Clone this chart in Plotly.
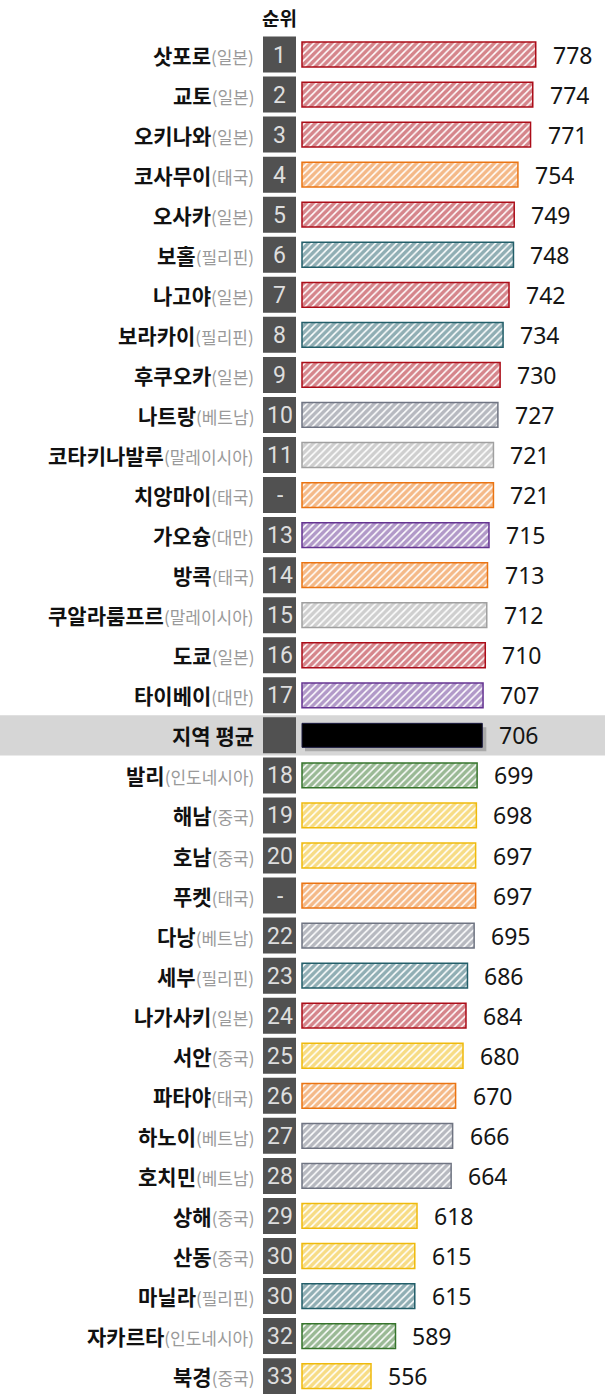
import plotly.graph_objects as go

cities = ["삿포로", "교토", "오키나와", "코사무이", "오사카", "보홀", "나고야", "보라카이", "후쿠오카", "나트랑",
          "코타키나발루", "치앙마이", "가오슝", "방콕", "쿠알라룸프르", "도쿄", "타이베이", "지역 평균",
          "발리", "해남", "호남", "푸켓", "다낭", "세부", "나가사키", "서안", "파타야", "하노이", "호치민",
          "상해", "산동", "마닐라", "자카르타", "북경"]
countries = ["일본", "일본", "일본", "태국", "일본", "필리핀", "일본", "필리핀", "일본", "베트남",
             "말레이시아", "태국", "대만", "태국", "말레이시아", "일본", "대만", "",
             "인도네시아", "중국", "중국", "태국", "베트남", "필리핀", "일본", "중국", "태국", "베트남", "베트남",
             "중국", "중국", "필리핀", "인도네시아", "중국"]
ranks = ["1", "2", "3", "4", "5", "6", "7", "8", "9", "10", "11", "-", "13", "14", "15", "16", "17", "",
         "18", "19", "20", "-", "22", "23", "24", "25", "26", "27", "28", "29", "30", "30", "32", "33"]
scores = [778, 774, 771, 754, 749, 748, 742, 734, 730, 727, 721, 721, 715, 713, 712, 710, 707, 706,
          699, 698, 697, 697, 695, 686, 684, 680, 670, 666, 664, 618, 615, 615, 589, 556]

country_colors = {
    "일본": "#ab0c18",
    "태국": "#ea7412",
    "필리핀": "#225e69",
    "베트남": "#6f7482",
    "말레이시아": "#a0a0a0",
    "대만": "#643391",
    "인도네시아": "#35742b",
    "중국": "#efba0c",
    "": "#000000",
}

BASE = 463
PX = 0.742           # pixels per unit
X0 = BASE - 302 / PX
X1 = X0 + 605 / PX
PITCH = 40.05
Y_TOP = -54.5 / PITCH
Y_BOT = Y_TOP + 1394 / PITCH

avg_idx = cities.index("지역 평균")
n = len(cities)
idx = list(range(n))

fig = go.Figure()

hatch_idx = [i for i in idx if i != avg_idx]
cols = [country_colors[countries[i]] for i in hatch_idx]
fig.add_trace(go.Bar(
    y=hatch_idx,
    x=[scores[i] - BASE for i in hatch_idx],
    base=BASE,
    orientation="h",
    width=0.62,
    marker=dict(
        color="white",
        line=dict(color=cols, width=1.5),
        pattern=dict(shape="/", fgcolor=cols, bgcolor="white", size=5, solidity=0.7, fillmode="overlay"),
    ),
    hoverinfo="skip",
))
fig.add_trace(go.Bar(
    y=[avg_idx],
    x=[scores[avg_idx] - BASE],
    base=BASE,
    orientation="h",
    width=0.6,
    marker=dict(color="#000000", line=dict(color="#1a1a40", width=1)),
    hoverinfo="skip",
))

shapes = []
shapes.append(dict(type="rect", xref="paper", yref="y", x0=0, x1=1,
                   y0=avg_idx - 0.5, y1=avg_idx + 0.5, fillcolor="#d6d6d6", line_width=0, layer="below"))
shapes.append(dict(type="rect", xref="x", yref="y", x0=BASE + 3 / PX, x1=scores[avg_idx] + 4 / PX,
                   y0=avg_idx - 0.3 + 4 / PITCH, y1=avg_idx + 0.3 + 4 / PITCH,
                   fillcolor="#8a8a8a", opacity=0.6, line_width=0, layer="below"))
annotations = []
for i in idx:
    shapes.append(dict(type="rect", xref="paper", yref="y", x0=263 / 605, x1=296 / 605,
                       y0=i - 0.45, y1=i + 0.45, fillcolor="#515151", line_width=0, layer="above"))
    if ranks[i]:
        annotations.append(dict(x=279.5 / 605, xref="paper", y=i, yref="y", text=ranks[i],
                                showarrow=False, xanchor="center", yanchor="middle", height=26,
                                font=dict(family="Liberation Sans Narrow, Roboto, sans-serif", size=23, color="#dedede")))
    if countries[i]:
        label = (f"<b>{cities[i]}</b><span style='font-size:17px;color:#9a9a9a'>({countries[i]})</span>")
    else:
        label = f"<b>{cities[i]}</b>"
    annotations.append(dict(x=256 / 605, xref="paper", y=i, yref="y", text=label, showarrow=False,
                            xanchor="right", yanchor="middle", height=26,
                            font=dict(family="Noto Sans CJK KR", size=21, color="#111111")))
    annotations.append(dict(x=scores[i], xref="x", y=i, yref="y", text=str(scores[i]), showarrow=False,
                            xanchor="left", yanchor="middle", xshift=15, height=24,
                            font=dict(family="Noto Sans, Open Sans, sans-serif", size=23, color="#151515")))

annotations.append(dict(x=279.5 / 605, xref="paper", y=1 - 17 / 1394, yref="paper", text="<b>순위</b>",
                        showarrow=False, xanchor="center", yanchor="middle",
                        font=dict(family="Noto Sans CJK KR", size=19, color="#111111")))

fig.update_layout(
    width=605, height=1394,
    margin=dict(l=0, r=0, t=0, b=0),
    paper_bgcolor="white", plot_bgcolor="white",
    showlegend=False,
    barmode="overlay",
    xaxis=dict(range=[X0, X1], visible=False, fixedrange=True),
    yaxis=dict(range=[Y_BOT, Y_TOP], visible=False, fixedrange=True),
    shapes=shapes,
    annotations=annotations,
)

fig.write_html("out.html")
